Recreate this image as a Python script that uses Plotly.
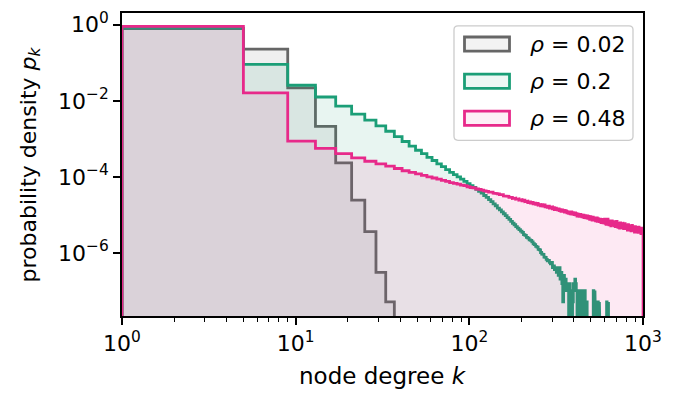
import numpy as np
import plotly.graph_objects as go

# ---------------- data ----------------
bin_start = 1
bin_width = 4
rho_labels = ["0.02", "0.2", "0.48"]
colors = ["#666666", "#1b9e77", "#e7298a"]
fill_rgb = [(102, 102, 102), (27, 158, 119), (231, 41, 138)]

# log10 of probability density per bin (None = empty bin)
gray_log = [-0.10, -0.64, -1.66, -2.67, -3.63, -4.61, -5.44, -6.51, -7.29]

green_log = [
    -0.09, -1.04, -1.59, -1.90, -2.14, -2.35, -2.51, -2.66, -2.80, -2.94,
    -3.07, -3.19, -3.30, -3.39, -3.49, -3.57, -3.66, -3.73, -3.81, -3.88,
    -3.94, -4.00, -4.06, -4.12, -4.18, -4.23, -4.28, -4.33, -4.38, -4.43,
    -4.49, -4.54, -4.60, -4.65, -4.71, -4.76, -4.82, -4.87, -4.92, -4.97,
    -5.02, -5.07, -5.12, -5.17, -5.22, -5.26, -5.31, -5.35, -5.39, -5.43,
    -5.46, -5.52, -5.54, -5.59, -5.61, -5.66, -5.67, -5.71, -5.76, -5.78,
    -5.83, -5.85, -5.91, -5.92, -5.99, -6.03, -6.04, -6.11, -6.12, -6.17,
    -6.21, -6.20, -6.25, -6.29, -6.25, -6.39, -6.34, -6.44, -6.39, -6.51,
    -6.44, -6.59, -6.39, -6.69, -6.51, -6.81, -7.29, -6.59, -6.81, -6.69,
    -6.99, -6.81, -6.99, None, -6.81, None, -6.99, None, -7.29, -6.81,
    -6.99, -6.69, -6.81, -6.99, None, -6.99, -7.29, -6.99, -6.99, None,
    -6.99, -7.29, None, -6.99, -7.29, -6.99, None, None, -7.29, None,
    None, None, None, None, None, None, None, None, None, -6.99,
    None, -6.99, None, None, None, None, None, -7.29, None, -7.29,
    None, None, None, None, None, None, None, None, None, None,
    None, None, None, None, -7.29, None, None, -7.29,
]

pink_log = [
    -0.04, -1.79, -3.06, -3.25, -3.39, -3.50, -3.59, -3.66, -3.72, -3.78,
    -3.84, -3.88, -3.92, -3.96, -4.00, -4.03, -4.06, -4.09, -4.12, -4.15,
    -4.17, -4.19, -4.22, -4.23, -4.26, -4.28, -4.29, -4.32, -4.33, -4.35,
    -4.37, -4.38, -4.40, -4.40, -4.43, -4.44, -4.45, -4.47, -4.47, -4.50,
    -4.51, -4.51, -4.54, -4.54, -4.57, -4.56, -4.59, -4.58, -4.61, -4.60,
    -4.63, -4.61, -4.65, -4.64, -4.68, -4.66, -4.69, -4.67, -4.71, -4.69,
    -4.72, -4.70, -4.74, -4.73, -4.76, -4.73, -4.77, -4.74, -4.79, -4.77,
    -4.80, -4.77, -4.82, -4.80, -4.79, -4.84, -4.81, -4.86, -4.82, -4.85,
    -4.87, -4.84, -4.89, -4.86, -4.91, -4.87, -4.90, -4.88, -4.93, -4.89,
    -4.91, -4.95, -4.92, -4.96, -4.93, -4.97, -4.92, -4.98, -4.94, -4.96,
    -4.99, -4.95, -5.00, -4.97, -5.03, -4.98, -5.01, -5.04, -4.99, -5.02,
    -5.00, -5.05, -5.03, -5.01, -5.07, -5.04, -5.02, -5.08, -5.05, -5.03,
    -5.09, -5.04, -5.07, -5.12, -5.05, -5.10, -5.08, -5.14, -5.06, -5.11,
    -5.08, -5.14, -5.10, -5.16, -5.11, -5.08, -5.17, -5.10, -5.14, -5.12,
    -5.18, -5.11, -5.15, -5.20, -5.12, -5.16, -5.13, -5.21, -5.15, -5.18,
    -5.11, -5.22, -5.15, -5.25, -5.14, -5.20, -5.11, -5.22, -5.18, -5.26,
    -5.16, -5.24, -5.18, -5.29, -5.21, -5.16, -5.27, -5.20, -5.25, -5.18,
    -5.18, -5.29, -5.22, -5.31, -5.20, -5.26, -5.17, -5.29, -5.25, -5.33,
    -5.22, -5.30, -5.24, -5.35, -5.26, -5.21, -5.33, -5.25, -5.30, -5.24,
    -5.23, -5.34, -5.27, -5.36, -5.25, -5.31, -5.23, -5.34, -5.29, -5.36,
    -5.27, -5.35, -5.29, -5.40, -5.31, -5.26, -5.37, -5.30, -5.35, -5.28,
    -5.29, -5.40, -5.33, -5.42, -5.31, -5.37, -5.28, -5.39, -5.35, -5.41,
    -5.32, -5.40, -5.34, -5.45, -5.36, -5.31, -5.42, -5.35, -5.40, -5.33,
    -5.33, -5.44, -5.37, -5.46, -5.35, -5.41, -5.32, -5.43, -5.39, -5.45,
    -5.36, -5.44, -5.38, -5.49, -5.40, -5.35, -5.46, -5.39, -5.44, -5.47,
]

series_logs = [gray_log, green_log, pink_log]

y_ticks = [1, 1e-2, 1e-4, 1e-6]
y_ticktext = ["10<sup>0</sup>", "10<sup>\u22122</sup>", "10<sup>\u22124</sup>", "10<sup>\u22126</sup>"]
x_ticks = [1, 10, 100, 1000]
x_ticktext = ["10<sup>0</sup>", "10<sup>1</sup>", "10<sup>2</sup>", "10<sup>3</sup>"]

# ---------------- figure ----------------
W, H = 688, 397
L, R, T, B = 122, 45, 9, 81
FONT = "DejaVu Sans"
FS = 22
floor = 1e-12


def step_xy(vals):
    n = len(vals)
    edges = bin_start + bin_width * np.arange(n + 1)
    p = [10 ** v if v is not None else floor for v in vals]
    xs, ys = [edges[0]], [floor]
    for i in range(n):
        xs += [edges[i], edges[i + 1]]
        ys += [p[i], p[i]]
    xs.append(edges[n])
    ys.append(floor)
    return xs, ys


fig = go.Figure()
for vals, col, rgb in zip(series_logs, colors, fill_rgb):
    xs, ys = step_xy(vals)
    fig.add_trace(go.Scatter(x=xs, y=ys, mode="lines", fill="toself",
                             fillcolor="rgba(%d,%d,%d,0.1)" % rgb,
                             line=dict(width=0), hoverinfo="skip", showlegend=False))
    fig.add_trace(go.Scatter(x=xs, y=ys, mode="lines",
                             line=dict(color=col, width=2.8),
                             hoverinfo="skip", showlegend=False))

pw = W - L - R
ph = H - T - B


def px_x(x):
    return (x - L) / pw


def px_y(y):
    return (H - B - y) / ph


shapes = []
annotations = []

# legend box (rounded)
bx0, bx1, by0, by1 = 454, 633, 22, 138
r = 4
path = (
    f"M {px_x(bx0 + r)},{px_y(by0)} L {px_x(bx1 - r)},{px_y(by0)} "
    f"Q {px_x(bx1)},{px_y(by0)} {px_x(bx1)},{px_y(by0 + r)} "
    f"L {px_x(bx1)},{px_y(by1 - r)} Q {px_x(bx1)},{px_y(by1)} {px_x(bx1 - r)},{px_y(by1)} "
    f"L {px_x(bx0 + r)},{px_y(by1)} Q {px_x(bx0)},{px_y(by1)} {px_x(bx0)},{px_y(by1 - r)} "
    f"L {px_x(bx0)},{px_y(by0 + r)} Q {px_x(bx0)},{px_y(by0)} {px_x(bx0 + r)},{px_y(by0)} Z"
)
shapes.append(dict(type="path", xref="paper", yref="paper", path=path,
                   line=dict(color="#cccccc", width=1.3),
                   fillcolor="rgba(255,255,255,0.8)", layer="above"))

centers = [40.5, 78.2, 115.7]
for lab, col, rgb, cy in zip(rho_labels, colors, fill_rgb, centers):
    shapes.append(dict(type="rect", xref="paper", yref="paper",
                       x0=px_x(464.5), x1=px_x(509.5), y0=px_y(cy - 7.2), y1=px_y(cy + 7.2),
                       line=dict(color=col, width=2.8),
                       fillcolor="rgba(%d,%d,%d,0.08)" % rgb, layer="above"))
    annotations.append(dict(xref="paper", yref="paper", x=px_x(528), y=px_y(cy),
                            xanchor="left", yanchor="middle", showarrow=False,
                            text="<i>\u03c1</i> = " + lab,
                            font=dict(family=FONT, size=FS, color="black")))

annotations.append(dict(xref="paper", yref="paper", x=0.5, y=px_y(377),
                        xanchor="center", yanchor="middle", showarrow=False,
                        text="node degree <i>k</i>",
                        font=dict(family=FONT, size=FS + 1, color="black")))
annotations.append(dict(xref="paper", yref="paper", x=px_x(30), y=0.5,
                        xanchor="center", yanchor="middle", showarrow=False,
                        textangle=-90,
                        text="probability density <i>p</i><sub><i>k</i></sub>",
                        font=dict(family=FONT, size=FS, color="black")))

minor_x = [m * 10 ** d for d in range(3) for m in range(2, 10)]

fig.update_layout(
    width=W, height=H,
    margin=dict(l=L, r=R, t=T, b=B, pad=0),
    paper_bgcolor="white", plot_bgcolor="white",
    font=dict(family=FONT, size=FS, color="black"),
    showlegend=False,
    shapes=shapes, annotations=annotations,
    xaxis=dict(type="log", range=[0, 3], showgrid=False, zeroline=False,
               showline=True, linecolor="black", linewidth=1.6, mirror=True,
               ticks="outside", ticklen=7, tickwidth=1.6, tickcolor="black",
               tickmode="array", tickvals=x_ticks, ticktext=x_ticktext,
               tickfont=dict(family=FONT, size=FS, color="black"),
               minor=dict(ticks="outside", ticklen=4, tickwidth=1.2, tickcolor="black",
                          tickmode="array", tickvals=minor_x, showgrid=False)),
    yaxis=dict(type="log", range=[-7.66, 0.31], showgrid=False, zeroline=False,
               showline=True, linecolor="black", linewidth=1.6, mirror=True,
               ticks="outside", ticklen=7, tickwidth=1.6, tickcolor="black",
               tickmode="array", tickvals=y_ticks, ticktext=y_ticktext,
               tickfont=dict(family=FONT, size=FS, color="black")),
)

fig.write_html("out.html")
